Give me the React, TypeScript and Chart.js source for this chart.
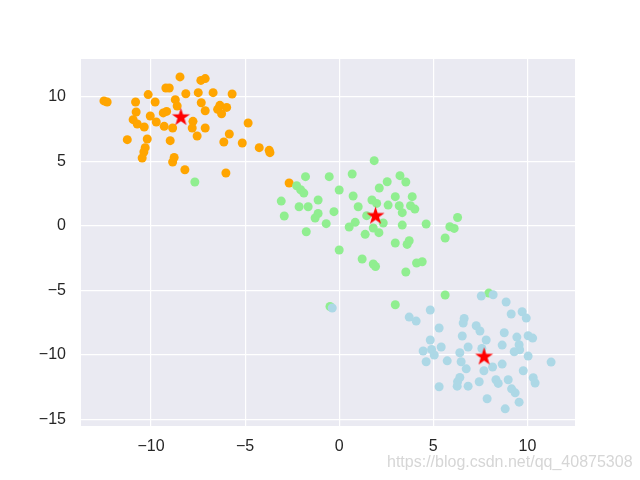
import React, { useEffect, useRef } from "react";
import { Chart, registerables } from "chart.js";

Chart.register(...registerables);

// Cluster points [x, y]
const orangeCluster: [number, number][] = [
  [-12.5, 9.67], [-12.33, 9.59], [-8.46, 11.53], [-7.35, 11.26], [-7.12, 11.4],
  [-9.21, 10.67], [-9.03, 10.67], [-10.15, 10.16], [-8.15, 10.23], [-7.49, 10.31],
  [-6.7, 10.31], [-5.69, 10.21], [-10.82, 9.59], [-9.78, 9.59], [-8.71, 9.77],
  [-8.61, 9.28], [-7.33, 9.53], [-6.34, 9.33], [-5.98, 9.17], [-6.46, 9.02],
  [-6.25, 8.68], [-7.12, 8.91], [-10.79, 8.81], [-9.35, 8.74], [-9.17, 8.86],
  [-10.04, 8.5], [-10.95, 8.22], [-10.73, 7.88], [-10.36, 7.65], [-9.72, 8.04],
  [-9.3, 7.7], [-8.85, 7.57], [-7.77, 8.09], [-7.81, 7.57], [-7.12, 7.57],
  [-7.55, 6.95], [-4.84, 7.96], [-5.84, 7.11], [-6.13, 6.49], [-5.15, 6.41],
  [-11.26, 6.67], [-10.2, 6.72], [-8.98, 6.59], [-10.31, 6.05], [-10.38, 5.71],
  [-10.47, 5.25], [-8.77, 5.29], [-8.85, 4.94], [-8.2, 4.34], [-6.02, 4.09],
  [-4.25, 6.05], [-3.72, 5.84], [-3.68, 5.66], [-2.66, 3.31],
];

const greenCluster: [number, number][] = [
  [-7.67, 3.39], [1.86, 5.04], [-1.79, 3.8], [-0.53, 3.8], [0.69, 4.01],
  [3.23, 3.88], [3.54, 3.39], [2.55, 3.41], [2.13, 2.92], [-2.26, 3.1],
  [-2.05, 2.79], [-1.88, 2.53], [0.0, 2.77], [-3.08, 1.91], [-1.12, 1.99],
  [0.74, 2.3], [1.74, 1.99], [1.99, 1.73], [2.98, 2.25], [3.88, 2.25],
  [2.6, 1.6], [3.19, 1.55], [3.79, 1.55], [4.02, 1.29], [3.35, 1.01],
  [-2.13, 1.47], [-1.65, 1.47], [1.01, 1.47], [-2.92, 0.75], [-1.12, 0.95],
  [-1.28, 0.6], [-0.28, 1.09], [1.46, 0.78], [-0.69, 0.16], [0.85, 0.26],
  [0.53, -0.1], [1.81, -0.18], [2.34, 0.21], [2.11, -0.54], [1.38, -0.67],
  [3.35, 0.05], [4.62, 0.13], [-1.75, -0.47], [5.88, -0.08], [6.11, -0.21],
  [6.29, 0.64], [5.63, -0.95], [3.72, -1.16], [3.61, -1.45], [2.98, -1.34],
  [0.0, -1.88], [1.22, -2.58], [1.81, -2.97], [1.93, -3.16], [4.11, -2.89],
  [4.41, -2.79], [3.54, -3.59], [5.63, -5.37], [2.98, -6.12], [7.95, -5.22],
  [-0.49, -6.26],
];

const blueCluster: [number, number][] = [
  [7.55, -5.45], [8.18, -5.35], [8.87, -5.91], [4.84, -6.53], [3.72, -7.08],
  [4.09, -7.39], [9.14, -6.84], [9.72, -6.67], [9.94, -7.16], [6.64, -7.19],
  [6.59, -7.54], [7.28, -7.75], [7.48, -8.16], [5.31, -7.93], [6.54, -8.55],
  [8.77, -8.29], [9.44, -8.63], [10.04, -8.53], [10.28, -8.71], [4.84, -8.86],
  [7.81, -8.86], [8.66, -9.25], [9.56, -9.22], [9.59, -9.61], [9.3, -9.77],
  [6.85, -9.4], [5.42, -9.4], [4.46, -9.71], [4.91, -9.59], [5.05, -10.02],
  [6.41, -9.84], [7.58, -9.51], [10.04, -10.1], [11.26, -10.57], [4.62, -10.54],
  [5.74, -10.47], [6.48, -10.54], [8.66, -10.72], [8.15, -10.95], [6.75, -11.09],
  [7.69, -11.24], [9.78, -11.24], [10.31, -11.78], [10.41, -12.19], [6.41, -11.76],
  [6.29, -12.09], [6.27, -12.43], [6.85, -12.43], [7.44, -12.09], [8.33, -11.94],
  [8.45, -12.22], [8.98, -11.94], [9.16, -12.64], [9.35, -12.95], [5.31, -12.48],
  [7.86, -13.41], [9.56, -13.67], [8.82, -14.19], [-0.37, -6.38],
];

const centroids: [number, number][] = [
  [-8.41, 8.4],
  [1.93, 0.75],
  [7.7, -10.16],
];

const xTicks = [-10, -5, 0, 5, 10];
const yTicks = [-15, -10, -5, 0, 5, 10];
const xRange = [-13.72, 12.53];
const yRange = [-15.52, 12.92];
const watermark = "https://blog.csdn.net/qq_40875308";

const toXY = (pts: [number, number][]) => pts.map(([x, y]) => ({ x, y }));
const fmt = (v: number) => (v < 0 ? "\u2212" + Math.abs(v) : String(v));

function makeStar(outer: number, color: string): HTMLCanvasElement {
  const size = Math.ceil(outer * 2 + 2);
  const c = document.createElement("canvas");
  c.width = size;
  c.height = size;
  const ctx = c.getContext("2d")!;
  const cx = size / 2;
  const cy = size / 2;
  const inner = outer * 0.381966;
  ctx.beginPath();
  for (let i = 0; i < 10; i++) {
    const r = i % 2 === 0 ? outer : inner;
    const a = -Math.PI / 2 + (i * Math.PI) / 5;
    const px = cx + r * Math.cos(a);
    const py = cy + r * Math.sin(a);
    if (i === 0) ctx.moveTo(px, py);
    else ctx.lineTo(px, py);
  }
  ctx.closePath();
  ctx.fillStyle = color;
  ctx.fill();
  return c;
}

const bgPlugin = {
  id: "axesBg",
  beforeDraw(chart: any) {
    const { ctx, chartArea } = chart;
    ctx.save();
    ctx.fillStyle = "#EAEAF2";
    ctx.fillRect(chartArea.left, chartArea.top, chartArea.right - chartArea.left, chartArea.bottom - chartArea.top);
    ctx.restore();
  },
};

export default function App() {
  const ref = useRef<HTMLCanvasElement>(null);

  useEffect(() => {
    if (!ref.current) return;
    const star = makeStar(9.5, "#FF0000");
    const pointDs = (data: [number, number][], color: string, order: number) => ({
      data: toXY(data),
      backgroundColor: color,
      borderColor: color,
      borderWidth: 0,
      pointRadius: 4.5,
      pointHoverRadius: 4.5,
      order,
    });
    const tickFont = { family: "'Liberation Sans', Arial, sans-serif", size: 16 };
    const chart = new Chart(ref.current, {
      type: "scatter",
      data: {
        datasets: [
          pointDs(orangeCluster, "#FFA500", 3),
          pointDs(greenCluster, "#90EE90", 2),
          pointDs(blueCluster, "#ADD8E6", 1),
          {
            data: toXY(centroids),
            pointStyle: star as any,
            pointRadius: 9.5,
            backgroundColor: "#FF0000",
            order: 0,
          },
        ],
      },
      options: {
        animation: false,
        responsive: false,
        events: [],
        layout: { padding: { left: 0, top: 59, right: 65, bottom: 0 } },
        plugins: { legend: { display: false }, tooltip: { enabled: false } },
        scales: {
          x: {
            type: "linear",
            min: xRange[0],
            max: xRange[1],
            afterFit: (s: any) => { s.height = 54; },
            afterBuildTicks: (s: any) => { s.ticks = xTicks.map((v) => ({ value: v })); },
            grid: { color: "#FFFFFF", lineWidth: 1.2, drawTicks: false },
            border: { display: false },
            ticks: { color: "#262626", font: tickFont, padding: 11, callback: (v: any) => fmt(Number(v)) },
          },
          y: {
            type: "linear",
            min: yRange[0],
            max: yRange[1],
            afterFit: (s: any) => { s.width = 81; },
            afterBuildTicks: (s: any) => { s.ticks = yTicks.map((v) => ({ value: v })); },
            grid: { color: "#FFFFFF", lineWidth: 1.2, drawTicks: false },
            border: { display: false },
            ticks: { color: "#262626", font: tickFont, padding: 15, callback: (v: any) => fmt(Number(v)) },
          },
        },
      },
      plugins: [bgPlugin],
    });
    return () => chart.destroy();
  }, []);

  return (
    <div style={{ position: "fixed", left: 0, top: 0, width: 640, height: 480, background: "#fff" }}>
      <canvas ref={ref} width={640} height={480} style={{ display: "block" }} />
      <div
        style={{
          position: "absolute",
          left: 387,
          top: 452,
          fontFamily: "'Liberation Sans', Arial, sans-serif",
          fontSize: 16,
          color: "#d6d6d6",
          whiteSpace: "nowrap",
          lineHeight: "20px",
        }}
      >
        {watermark}
      </div>
    </div>
  );
}
